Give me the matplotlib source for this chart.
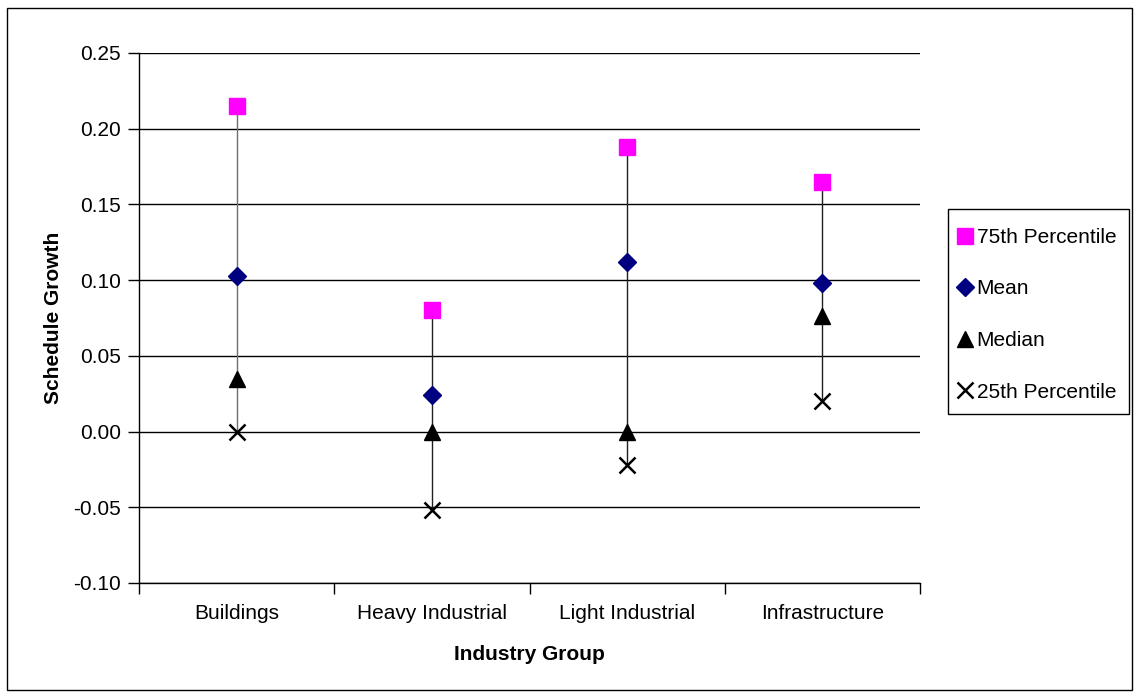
import matplotlib
matplotlib.use("Agg")
import matplotlib.pyplot as plt
import numpy as np

plt.rcParams['font.family'] = ['Liberation Sans', 'DejaVu Sans']

categories = ["Buildings", "Heavy Industrial", "Light Industrial", "Infrastructure"]
p75 = [0.215, 0.080, 0.188, 0.165]
mean = [0.103, 0.024, 0.112, 0.098]
median = [0.035, 0.000, 0.000, 0.076]
p25 = [0.000, -0.052, -0.022, 0.020]
yticks = [-0.10, -0.05, 0.00, 0.05, 0.10, 0.15, 0.20, 0.25]

FS = 15
W, H = 1140, 698

fig = plt.figure(figsize=(W/100, H/100), dpi=100)
ax = fig.add_axes([139/W, 1-583/H, (920-139)/W, (583-53)/H])

x = np.arange(len(categories)) + 0.5
line_colors = ['#707070', '#202020', '#202020', '#202020']
for xi, lo, hi, c in zip(x, p25, p75, line_colors):
    ax.plot([xi, xi], [lo, hi], color=c, lw=1, zorder=2)

ax.plot(x, p75, ls='none', marker='s', ms=11.5, color='#FF00FF', label='75th Percentile', zorder=3)
ax.plot(x, mean, ls='none', marker='D', ms=9.5, color='#000080', label='Mean', zorder=3)
ax.plot(x, median, ls='none', marker='^', ms=12, color='black', label='Median', zorder=3)
ax.plot(x, p25, ls='none', marker='x', ms=11, mew=1.8, color='black', label='25th Percentile', zorder=3)

ax.set_xlim(0, 4)
ax.set_ylim(-0.10, 0.25)
ax.set_yticks(yticks)
ax.set_yticklabels([f"{v:.2f}" for v in yticks], fontsize=FS)
ax.set_xticks([0, 1, 2, 3, 4])
ax.set_xticklabels([])
ax.set_xticks(x, minor=True)
ax.set_xticklabels(categories, minor=True, fontsize=FS)
ax.tick_params(axis='x', which='minor', length=0, pad=15)
ax.tick_params(axis='x', which='major', length=8, direction='out', width=1)
ax.tick_params(axis='y', length=8, direction='out', width=1, pad=5)

ax.yaxis.grid(True, color='black', lw=1)
ax.set_axisbelow(True)
for s in ['top', 'right']:
    ax.spines[s].set_visible(False)
for s in ['left', 'bottom']:
    ax.spines[s].set_color('black')
    ax.spines[s].set_linewidth(1)

ax.set_xlabel("Industry Group", fontsize=FS, fontweight='bold', labelpad=16)
ax.set_ylabel("Schedule Growth", fontsize=FS, fontweight='bold', labelpad=7)

leg = fig.legend(loc='upper left', bbox_to_anchor=(958/W, 1-228/H), fontsize=FS,
                 frameon=False, labelspacing=1.56,
                 handlelength=0.7, handletextpad=0.2, borderpad=0, borderaxespad=0)

fig.patches.append(plt.Rectangle((948/W, 1-414/H), (1129-948)/W, (414-209)/H,
                                 transform=fig.transFigure, fill=False, edgecolor='black', lw=1))
fig.patches.append(plt.Rectangle((7/W, 8/H), 1125/W, 682/H, transform=fig.transFigure,
                                 fill=False, edgecolor='black', lw=1))

fig.savefig("out.png", dpi=100)
